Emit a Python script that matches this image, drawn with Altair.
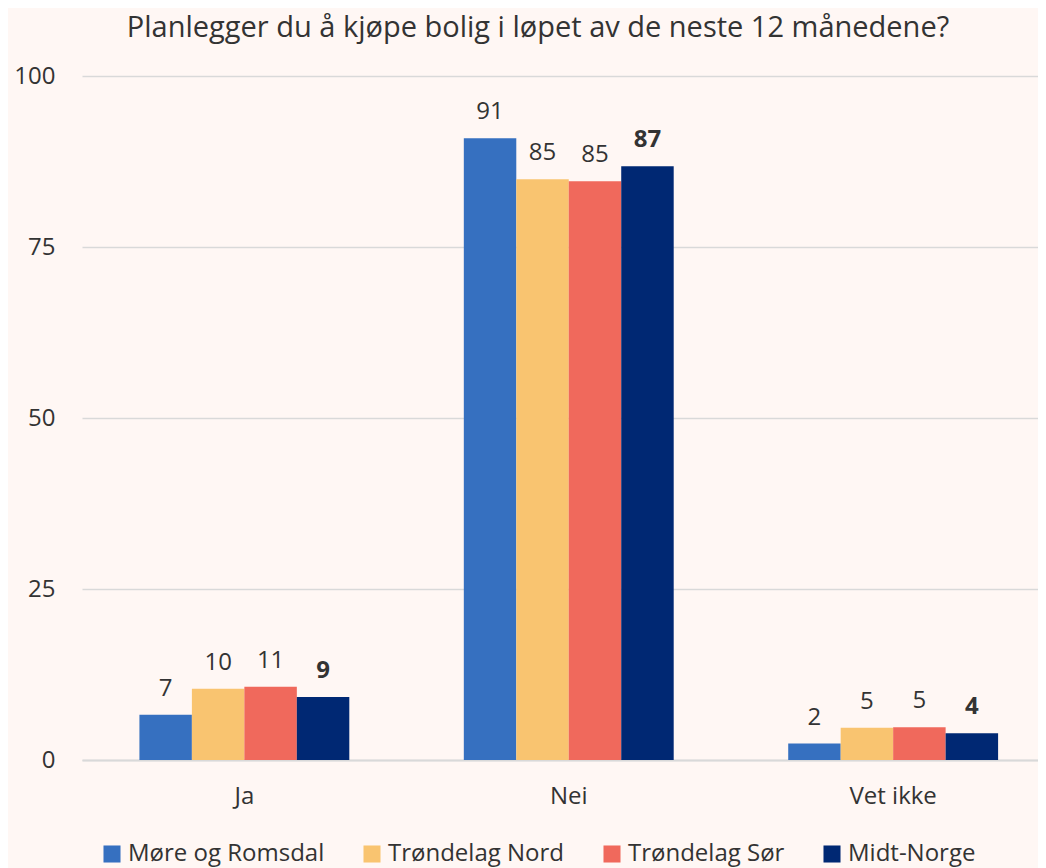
import altair as alt
import pandas as pd

categories = ["Ja", "Nei", "Vet ikke"]
series = ["Møre og Romsdal", "Trøndelag Nord", "Trøndelag Sør", "Midt-Norge"]
colors = ["#3670C0", "#F9C470", "#F0695C", "#002873"]
values = {
    "Møre og Romsdal": [6.6, 90.9, 2.4],
    "Trøndelag Nord": [10.4, 84.9, 4.7],
    "Trøndelag Sør": [10.7, 84.6, 4.8],
    "Midt-Norge": [9.2, 86.8, 3.9],
}
labels = {
    "Møre og Romsdal": ["7", "91", "2"],
    "Trøndelag Nord": ["10", "85", "5"],
    "Trøndelag Sør": ["11", "85", "5"],
    "Midt-Norge": ["9", "87", "4"],
}

rows = []
for s in series:
    for i, c in enumerate(categories):
        rows.append({"cat": c, "series": s, "value": values[s][i], "label": labels[s][i]})
df = pd.DataFrame(rows)

FONT = "Open Sans"
TXT = "#333333"
FS = 24

x = alt.X("cat:N", sort=categories, title=None,
          scale=alt.Scale(paddingInner=0.353, paddingOuter=0.15, align=0.59),
          axis=alt.Axis(labelAngle=0, labelFontSize=FS, labelColor=TXT, labelFont=FONT,
                        domainColor="#D9D9D9", domainWidth=2, ticks=False, labelPadding=24))
xo = alt.XOffset("series:N", sort=series, scale=alt.Scale(paddingInner=0, paddingOuter=0))
y = alt.Y("value:Q", title=None, scale=alt.Scale(domain=[0, 100]),
          axis=alt.Axis(values=[0, 25, 50, 75, 100], labelFontSize=FS, labelColor=TXT,
                        labelFont=FONT, domain=False, ticks=False, gridColor="#D9D9D9",
                        gridWidth=1.5, labelPadding=27))

base = alt.Chart(df)

bars = base.mark_bar().encode(
    x=x, xOffset=xo, y=y,
    color=alt.Color("series:N", sort=series,
                    scale=alt.Scale(domain=series, range=colors),
                    legend=alt.Legend(title=None, orient="none", legendX=18, legendY=766,
                                      direction="horizontal",
                                      symbolType="square", symbolSize=290, symbolStrokeWidth=0,
                                      labelFontSize=FS, labelFont=FONT, labelColor=TXT,
                                      columnPadding=35, labelLimit=300, labelOffset=4)),
)

txt_normal = base.transform_filter(alt.datum.series != "Midt-Norge").mark_text(
    baseline="alphabetic", dy=-19, fontSize=FS, font=FONT, color=TXT
).encode(x=x, xOffset=xo, y=y, text="label:N")

txt_bold = base.transform_filter(alt.datum.series == "Midt-Norge").mark_text(
    baseline="alphabetic", dy=-19, fontSize=FS, font=FONT, color=TXT, fontWeight="bold"
).encode(x=x, xOffset=xo, y=y, text="label:N")

chart = alt.layer(bars, txt_normal, txt_bold).properties(
    width=956, height=684,
    title=alt.TitleParams("Planlegger du å kjøpe bolig i løpet av de neste 12 månedene?",
                          fontSize=29, font=FONT, fontWeight="normal", color=TXT,
                          anchor="middle", offset=21, dx=-22),
    background="#FFF7F4",
    padding={"left": 74, "top": 68, "right": 0, "bottom": 108},
    autosize=alt.AutoSizeParams(type="none"),
).configure_view(stroke=None)

chart.save("out.html", embed_options={"renderer": "svg", "actions": False})
